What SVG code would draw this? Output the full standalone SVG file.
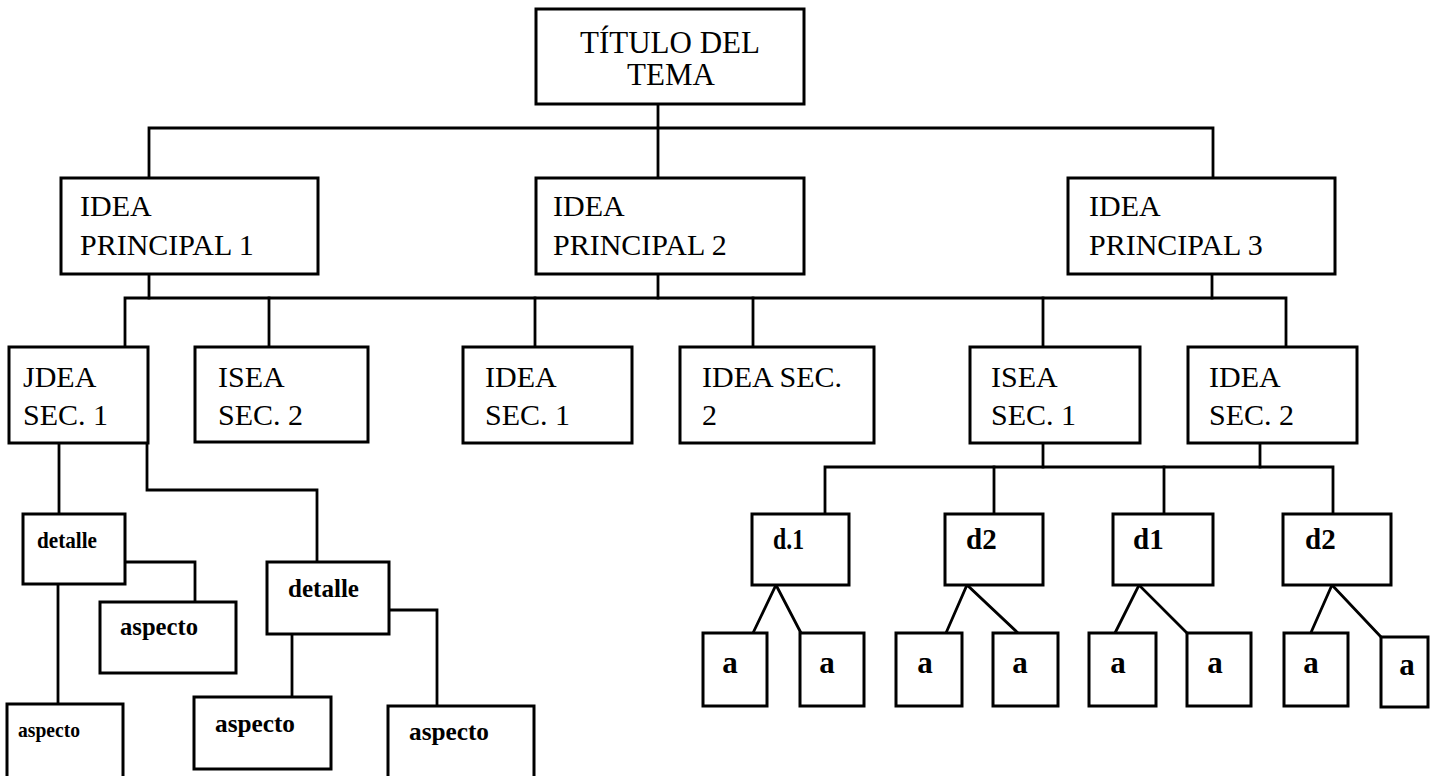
<svg xmlns="http://www.w3.org/2000/svg" width="1434" height="776" viewBox="0 0 1434 776">
<style>
  .box { fill: #fff; stroke: #000; stroke-width: 3; }
  .ln { fill: none; stroke: #000; stroke-width: 2.8; stroke-linecap: square; }
  .t { font-family: "Liberation Serif", "Times New Roman", serif; font-size: 30px; fill: #000; }
  .tt { font-family: "Liberation Serif", "Times New Roman", serif; font-size: 31px; fill: #000; text-anchor: middle; }
  .b { font-family: "Liberation Serif", "Times New Roman", serif; font-weight: bold; fill: #000; }
  .d { font-size: 29px; }
  .a { font-size: 31px; text-anchor: middle; }
  .s { font-size: 25px; }
</style>
<rect width="1434" height="776" fill="#fff"/>

<g id="connectors">
  <path class="ln" d="M149 178 V128 H1213 V178"/>
  <path class="ln" d="M658 104 V178"/>
  <path class="ln" d="M149 274 V298"/>
  <path class="ln" d="M658 274 V298"/>
  <path class="ln" d="M1212 274 V298"/>
  <path class="ln" d="M125 347 V298 H1286 V347"/>
  <path class="ln" d="M269 298 V347"/>
  <path class="ln" d="M535 298 V347"/>
  <path class="ln" d="M753 298 V347"/>
  <path class="ln" d="M1043 298 V347"/>
  <path class="ln" d="M59 443 V514"/>
  <path class="ln" d="M147 443 V490 H317 V562"/>
  <path class="ln" d="M125 562 H195 V608"/>
  <path class="ln" d="M58 584 V704"/>
  <path class="ln" d="M292 634 V703"/>
  <path class="ln" d="M389 610 H437 V706"/>
  <path class="ln" d="M1043 443 V467"/>
  <path class="ln" d="M1260 443 V467"/>
  <path class="ln" d="M825 514 V467 H1333 V514"/>
  <path class="ln" d="M994 467 V514"/>
  <path class="ln" d="M1164 467 V514"/>
  <path class="ln" d="M753 633 L776 585 L801 633"/>
  <path class="ln" d="M946 633 L967 585 L1018 633"/>
  <path class="ln" d="M1115 633 L1139 585 L1187 633"/>
  <path class="ln" d="M1309 637 L1332 585 L1381 637"/>
</g>

<g id="titulo">
  <rect class="box" x="536" y="9" width="268" height="95"/>
  <text class="tt" x="670" y="53">TÍTULO DEL</text>
  <text class="tt" x="671" y="85">TEMA</text>
</g>

<g id="principal1">
  <rect class="box" x="61" y="178" width="257" height="96"/>
  <text class="t" x="80" y="216">IDEA</text>
  <text class="t" x="80" y="255">PRINCIPAL 1</text>
</g>
<g id="principal2">
  <rect class="box" x="536" y="178" width="268" height="96"/>
  <text class="t" x="553" y="216">IDEA</text>
  <text class="t" x="553" y="255">PRINCIPAL 2</text>
</g>
<g id="principal3">
  <rect class="box" x="1068" y="178" width="267" height="96"/>
  <text class="t" x="1089" y="216">IDEA</text>
  <text class="t" x="1089" y="255">PRINCIPAL 3</text>
</g>

<g id="sec1a">
  <rect class="box" x="9" y="347" width="139" height="96"/>
  <text class="t" x="23" y="387">JDEA</text>
  <text class="t" x="23" y="425">SEC. 1</text>
</g>
<g id="sec2a">
  <rect class="box" x="195" y="347" width="173" height="95"/>
  <text class="t" x="218" y="387">ISEA</text>
  <text class="t" x="218" y="425">SEC. 2</text>
</g>
<g id="sec1b">
  <rect class="box" x="463" y="347" width="169" height="96"/>
  <text class="t" x="485" y="387">IDEA</text>
  <text class="t" x="485" y="425">SEC. 1</text>
</g>
<g id="sec2b">
  <rect class="box" x="680" y="347" width="194" height="96"/>
  <text class="t" x="702" y="387">IDEA SEC.</text>
  <text class="t" x="702" y="425">2</text>
</g>
<g id="sec1c">
  <rect class="box" x="970" y="347" width="170" height="96"/>
  <text class="t" x="991" y="387">ISEA</text>
  <text class="t" x="991" y="425">SEC. 1</text>
</g>
<g id="sec2c">
  <rect class="box" x="1188" y="347" width="169" height="96"/>
  <text class="t" x="1209" y="387">IDEA</text>
  <text class="t" x="1209" y="425">SEC. 2</text>
</g>

<g id="detalle1">
  <rect class="box" x="23" y="514" width="102" height="70"/>
  <text class="b" x="37" y="548" font-size="23" textLength="60" lengthAdjust="spacingAndGlyphs">detalle</text>
</g>
<g id="aspecto1">
  <rect class="box" x="100" y="602" width="136" height="71"/>
  <text class="b s" x="120" y="635" textLength="78" lengthAdjust="spacingAndGlyphs">aspecto</text>
</g>
<g id="aspecto2">
  <rect class="box" x="7" y="704" width="116" height="100"/>
  <text class="b" x="18" y="737" font-size="22" textLength="62" lengthAdjust="spacingAndGlyphs">aspecto</text>
</g>
<g id="detalle2">
  <rect class="box" x="267" y="562" width="122" height="72"/>
  <text class="b s" x="288" y="597" textLength="71" lengthAdjust="spacingAndGlyphs">detalle</text>
</g>
<g id="aspecto3">
  <rect class="box" x="194" y="697" width="137" height="72"/>
  <text class="b s" x="215" y="732" textLength="80" lengthAdjust="spacingAndGlyphs">aspecto</text>
</g>
<g id="aspecto4">
  <rect class="box" x="388" y="706" width="146" height="100"/>
  <text class="b s" x="409" y="740" textLength="80" lengthAdjust="spacingAndGlyphs">aspecto</text>
</g>

<g id="d1a">
  <rect class="box" x="752" y="514" width="97" height="71"/>
  <text class="b d" x="773" y="549" textLength="31" lengthAdjust="spacingAndGlyphs">d.1</text>
</g>
<g id="d2a">
  <rect class="box" x="945" y="514" width="98" height="71"/>
  <text class="b d" x="966" y="549">d2</text>
</g>
<g id="d1b">
  <rect class="box" x="1113" y="514" width="100" height="71"/>
  <text class="b d" x="1133" y="549">d1</text>
</g>
<g id="d2b">
  <rect class="box" x="1283" y="514" width="108" height="71"/>
  <text class="b d" x="1305" y="549">d2</text>
</g>

<g id="a1"><rect class="box" x="703" y="633" width="64" height="73"/><text class="b a" x="730" y="673">a</text></g>
<g id="a2"><rect class="box" x="800" y="633" width="64" height="73"/><text class="b a" x="827" y="673">a</text></g>
<g id="a3"><rect class="box" x="896" y="633" width="66" height="73"/><text class="b a" x="925" y="673">a</text></g>
<g id="a4"><rect class="box" x="993" y="633" width="65" height="73"/><text class="b a" x="1020" y="673">a</text></g>
<g id="a5"><rect class="box" x="1089" y="633" width="67" height="73"/><text class="b a" x="1118" y="673">a</text></g>
<g id="a6"><rect class="box" x="1187" y="633" width="64" height="73"/><text class="b a" x="1215" y="673">a</text></g>
<g id="a7"><rect class="box" x="1284" y="633" width="64" height="73"/><text class="b a" x="1311" y="673">a</text></g>
<g id="a8"><rect class="box" x="1381" y="637" width="47" height="70"/><text class="b a" x="1407" y="675">a</text></g>
</svg>
